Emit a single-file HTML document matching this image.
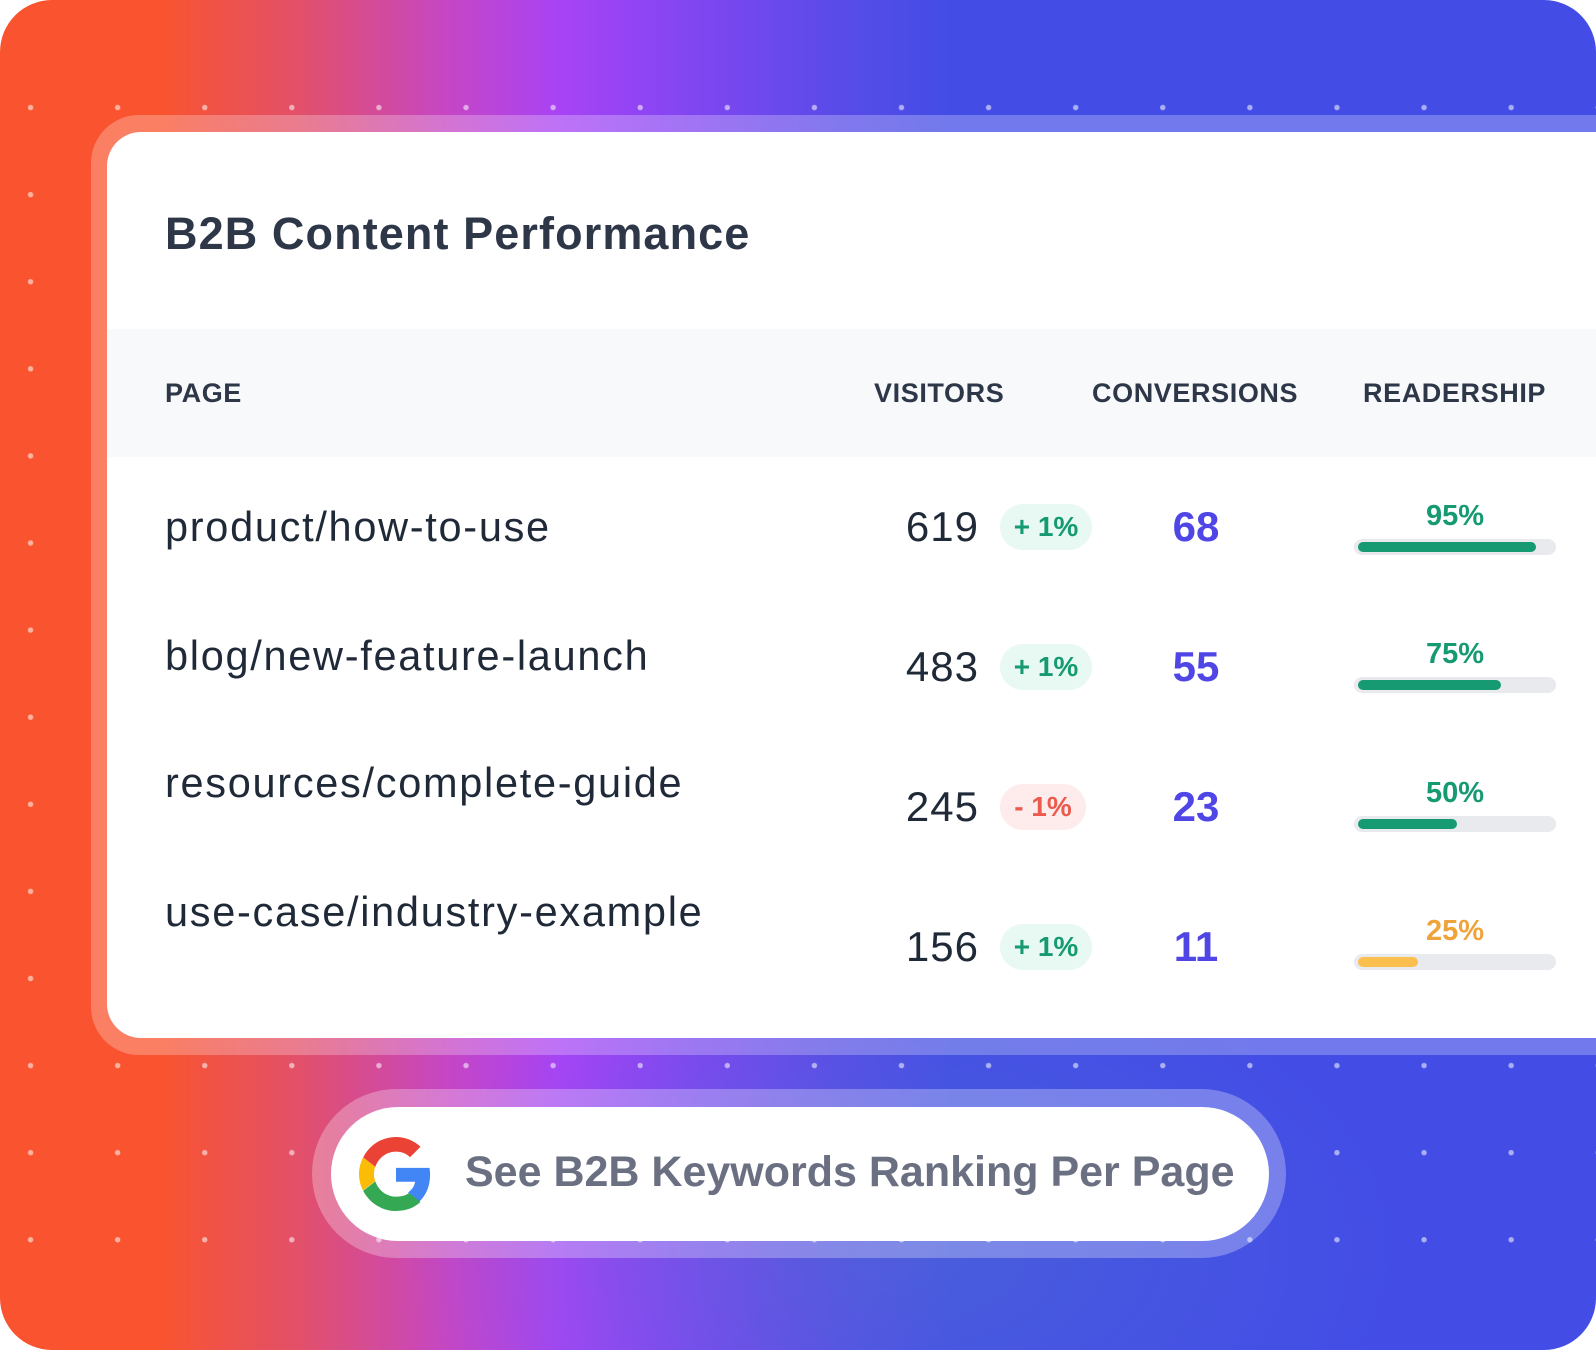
<!DOCTYPE html>
<html><head><meta charset="utf-8"><style>
*{margin:0;padding:0;box-sizing:border-box}
html,body{width:1596px;height:1350px;background:#fff;overflow:hidden}
body{font-family:"Liberation Sans",sans-serif;position:relative}
.bg{position:absolute;left:0;top:0;width:1596px;height:1350px;border-radius:52px;overflow:hidden;
background:linear-gradient(90deg,#f9542f 0px,#f9542f 160px,#e2506a 300px,#c546c6 450px,#a843f5 560px,#8a45f3 660px,#5b4be8 830px,#434de6 950px,#434de6 1596px)}
.bg2{position:absolute;left:0;top:0;width:100%;height:100%;background:radial-gradient(ellipse 500px 300px at 900px 1250px,rgba(80,110,210,.5),rgba(80,110,210,0))}
.dots{position:absolute;left:0;top:95px;width:100%;height:1160px;
background-image:radial-gradient(circle,rgba(255,255,255,.55) 2.4px,transparent 3px);
background-size:87.1px 87.1px;background-position:-13px -31px}
.frame{position:absolute;left:91px;top:115px;width:1560px;height:940px;border-radius:48px;background:rgba(255,255,255,.25)}
.card{position:absolute;left:107px;top:132px;width:1560px;height:906px;border-radius:34px;background:#fff;overflow:hidden}
.t{position:absolute;white-space:nowrap}
.title{left:58px;top:76px;font-size:45px;font-weight:bold;color:#2d3748;letter-spacing:1.1px}
.head{position:absolute;left:0;top:197px;width:100%;height:128px;background:#f8f9fb}
.h{font-size:27px;font-weight:bold;color:#2d3748;top:246px;letter-spacing:0.6px}
.pg{font-size:41.5px;color:#1f2937;left:58px;letter-spacing:1.7px}
.num{font-size:42px;color:#1f2937;width:120px;text-align:right;letter-spacing:1px}
.pill{position:absolute;left:893px;width:92px;height:46px;border-radius:23px;font-size:28px;font-weight:bold;text-align:center;line-height:46px}
.up{background:#e8f8f2;color:#159a72}
.dn{background:#fdeceb;color:#ea5b4d}
.cv{font-size:42px;font-weight:bold;color:#4f46e5;width:120px;text-align:center;left:1029px}
.pct{font-size:29px;font-weight:bold;width:202px;text-align:center;left:1247px}
.bar{position:absolute;left:1247px;width:202px;height:16px;border-radius:8px;background:#e8eaee}
.bar i{position:absolute;left:4px;top:3px;height:10px;border-radius:5px}
.btnout{position:absolute;left:312px;top:1089px;width:974px;height:169px;border-radius:85px;background:rgba(255,255,255,.28)}
.btn{position:absolute;left:331px;top:1107px;width:938px;height:134px;border-radius:67px;background:#fff}
.btxt{left:134px;top:41px;font-size:43px;font-weight:bold;color:#6b6f82}
</style></head><body>
<div class="bg"><div class="bg2"></div><div class="dots"></div></div>
<div class="frame"></div>
<div class="card">
<div class="t title">B2B Content Performance</div>
<div class="head"></div>
<div class="t h" style="left:58px">PAGE</div>
<div class="t h" style="left:767px">VISITORS</div>
<div class="t h" style="left:985px">CONVERSIONS</div>
<div class="t h" style="left:1256px">READERSHIP</div>

<div class="t pg" style="top:371px">product/how-to-use</div>
<div class="t num" style="left:752px;top:371px">619</div>
<div class="pill up" style="top:372px">+ 1%</div>
<div class="t cv" style="top:371px">68</div>
<div class="t pct" style="top:368px;color:#159a72">95%</div>
<div class="bar" style="top:407px"><i style="width:178px;background:#159a72"></i></div>

<div class="t pg" style="top:500px">blog/new-feature-launch</div>
<div class="t num" style="left:752px;top:511px">483</div>
<div class="pill up" style="top:512px">+ 1%</div>
<div class="t cv" style="top:511px">55</div>
<div class="t pct" style="top:506px;color:#159a72">75%</div>
<div class="bar" style="top:545px"><i style="width:143px;background:#159a72"></i></div>

<div class="t pg" style="top:627px">resources/complete-guide</div>
<div class="t num" style="left:752px;top:651px">245</div>
<div class="pill dn" style="top:652px;width:86px">- 1%</div>
<div class="t cv" style="top:651px">23</div>
<div class="t pct" style="top:645px;color:#159a72">50%</div>
<div class="bar" style="top:684px"><i style="width:99px;background:#159a72"></i></div>

<div class="t pg" style="top:756px">use-case/industry-example</div>
<div class="t num" style="left:752px;top:791px">156</div>
<div class="pill up" style="top:792px">+ 1%</div>
<div class="t cv" style="top:791px">11</div>
<div class="t pct" style="top:783px;color:#eea43a">25%</div>
<div class="bar" style="top:822px"><i style="width:60px;background:#fbbf4f"></i></div>
</div>
<div class="btnout"></div>
<div class="btn">
<svg style="position:absolute;left:28px;top:30px" width="74" height="74" viewBox="0 0 48 48">
<path fill="#EA4335" d="M24 9.5c3.5 0 6.6 1.2 9.1 3.6l6.8-6.8C35.8 2.5 30.3 0 24 0 14.6 0 6.6 5.4 2.7 13.3l7.9 6.1C12.5 13.6 17.8 9.5 24 9.5z"/>
<path fill="#4285F4" d="M46.1 24.5c0-1.6-.1-3.1-.4-4.5H24v9h12.4c-.5 2.9-2.2 5.3-4.6 7l7.4 5.8c4.3-4 6.9-9.9 6.9-17.3z"/>
<path fill="#FBBC05" d="M10.5 28.6c-.5-1.4-.8-3-.8-4.6s.3-3.2.8-4.6l-7.9-6.1C1 16.6 0 20.2 0 24s.9 7.4 2.6 10.7l7.9-6.1z"/>
<path fill="#34A853" d="M24 48c6.5 0 11.9-2.1 15.9-5.8l-7.4-5.8c-2.1 1.4-4.9 2.3-8.5 2.3-6.2 0-11.5-4.2-13.4-9.9l-7.9 6.1C6.6 42.6 14.6 48 24 48z"/>
</svg>
<div class="t btxt">See B2B Keywords Ranking Per Page</div>
</div>
</body></html>
